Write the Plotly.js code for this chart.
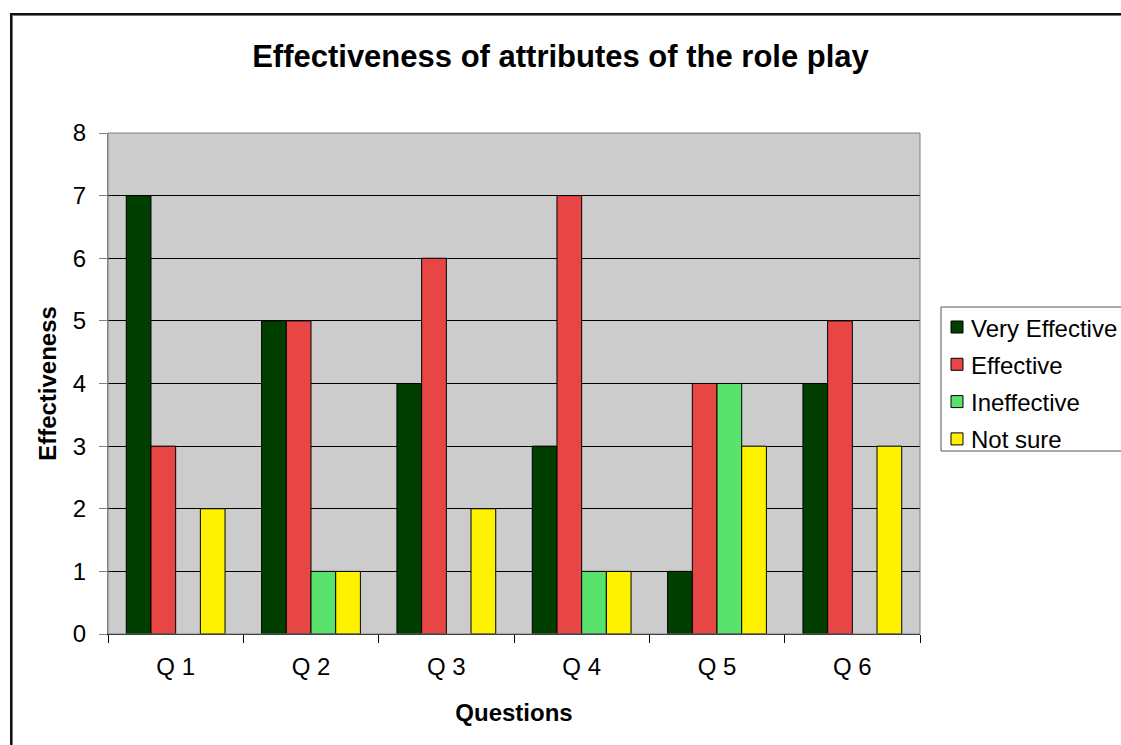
<!DOCTYPE html>
<html>
<head>
<meta charset="utf-8">
<script src="https://cdn.plot.ly/plotly-3.0.1.min.js"></script>
<style>
  html, body { margin: 0; padding: 0; background: #fff; }
  #chart { position: absolute; left: 0; top: 0; width: 1121px; height: 745px; }
  #frame { position: absolute; left: 10px; top: 13px; width: 1200px; height: 800px;
           border-left: 2px solid #111; border-top: 2px solid #111; pointer-events: none;
           box-shadow: inset 1px 1px 0 #777; }
</style>
</head>
<body>
<div id="chart"></div>
<div id="frame"></div>
<script>
const categories = ["Q 1", "Q 2", "Q 3", "Q 4", "Q 5", "Q 6"];
const seriesNames = ["Very Effective", "Effective", "Ineffective", "Not sure"];
const veryEffective = [7, 5, 4, 3, 1, 4];
const effective = [3, 5, 6, 7, 4, 5];
const ineffective = [0, 1, 0, 1, 4, 0];
const notSure = [2, 1, 2, 1, 3, 3];
const seriesColors = ["#003F00", "#E84644", "#5AE36C", "#FFF200"];
const yTicks = [0, 1, 2, 3, 4, 5, 6, 7, 8];

const seriesValues = [veryEffective, effective, ineffective, notSure];
const FONT = "Liberation Sans, Arial, sans-serif";

const traces = seriesValues.map((vals, i) => ({
  type: "bar",
  name: seriesNames[i],
  x: categories,
  y: vals,
  marker: {
    color: seriesColors[i],
    line: { color: "#000", width: vals.map(v => (v === 0 ? 0 : 1)) }
  },
  hoverinfo: "x+y+name"
}));

// plot area in pixels: left 108, right 920, top 133, bottom 634
const L = 108, R = 920, T = 133, B = 634;
const px = v => (v - L) / (R - L);
const py = v => (B - v) / (B - T);

const shapes = [{
  type: "rect", xref: "paper", yref: "paper",
  x0: px(941), x1: px(1135), y0: py(451), y1: py(307),
  line: { color: "#555", width: 1 }, fillcolor: "rgba(255,255,255,0)"
}];
const annotations = [];
seriesNames.forEach((n, i) => {
  const cy = 327 + 37.3 * i;
  shapes.push({
    type: "rect", xref: "paper", yref: "paper",
    x0: px(951), x1: px(963), y0: py(cy + 6), y1: py(cy - 6),
    line: { color: "#000", width: 1 }, fillcolor: seriesColors[i]
  });
  annotations.push({
    xref: "paper", yref: "paper", x: px(969), y: py(cy + 1),
    xanchor: "left", yanchor: "middle", showarrow: false,
    text: n, font: { family: FONT, size: 24, color: "#000" }
  });
});

const layout = {
  width: 1121, height: 745,
  margin: { l: L, r: 1121 - R, t: T, b: 745 - B, pad: 0 },
  paper_bgcolor: "#fff",
  plot_bgcolor: "#CCCCCC",
  font: { family: FONT, size: 24, color: "#000" },
  title: {
    text: "<b>Effectiveness of attributes of the role play</b>",
    x: 0.5, xanchor: "center", y: 1 - 56 / 745, yanchor: "middle",
    font: { size: 31, family: FONT }
  },
  showlegend: false,
  barmode: "group",
  bargap: 0.27,
  bargroupgap: 0,
  xaxis: {
    type: "category",
    tickson: "boundaries",
    ticks: "outside", ticklen: 8, tickcolor: "#000", tickwidth: 1,
    ticklabelstandoff: 11,
    showline: true, linecolor: "#000", linewidth: 1, mirror: false,
    showgrid: false,
    tickfont: { size: 24 },
    title: { text: "<b>Questions</b>", font: { size: 24 }, standoff: 25 },
    automargin: false
  },
  yaxis: {
    range: [0, 8],
    tickvals: yTicks,
    ticks: "outside", ticklen: 8, tickcolor: "#808080", tickwidth: 1,
    ticklabelstandoff: 8,
    showline: true, linecolor: "#808080", linewidth: 1,
    showgrid: true, gridcolor: "#000", gridwidth: 1,
    zeroline: false,
    tickfont: { size: 24 },
    title: { text: "<b>Effectiveness</b>", font: { size: 24 }, standoff: 9 },
    automargin: false
  },
  shapes: shapes.concat([{
    type: "rect", xref: "paper", yref: "paper", x0: 0, x1: 1, y0: 0, y1: 1,
    line: { color: "#808080", width: 1 }, fillcolor: "rgba(0,0,0,0)", layer: "above"
  }]),
  annotations: annotations
};

Plotly.newPlot("chart", traces, layout, { displayModeBar: false, staticPlot: true });
</script>
</body>
</html>
